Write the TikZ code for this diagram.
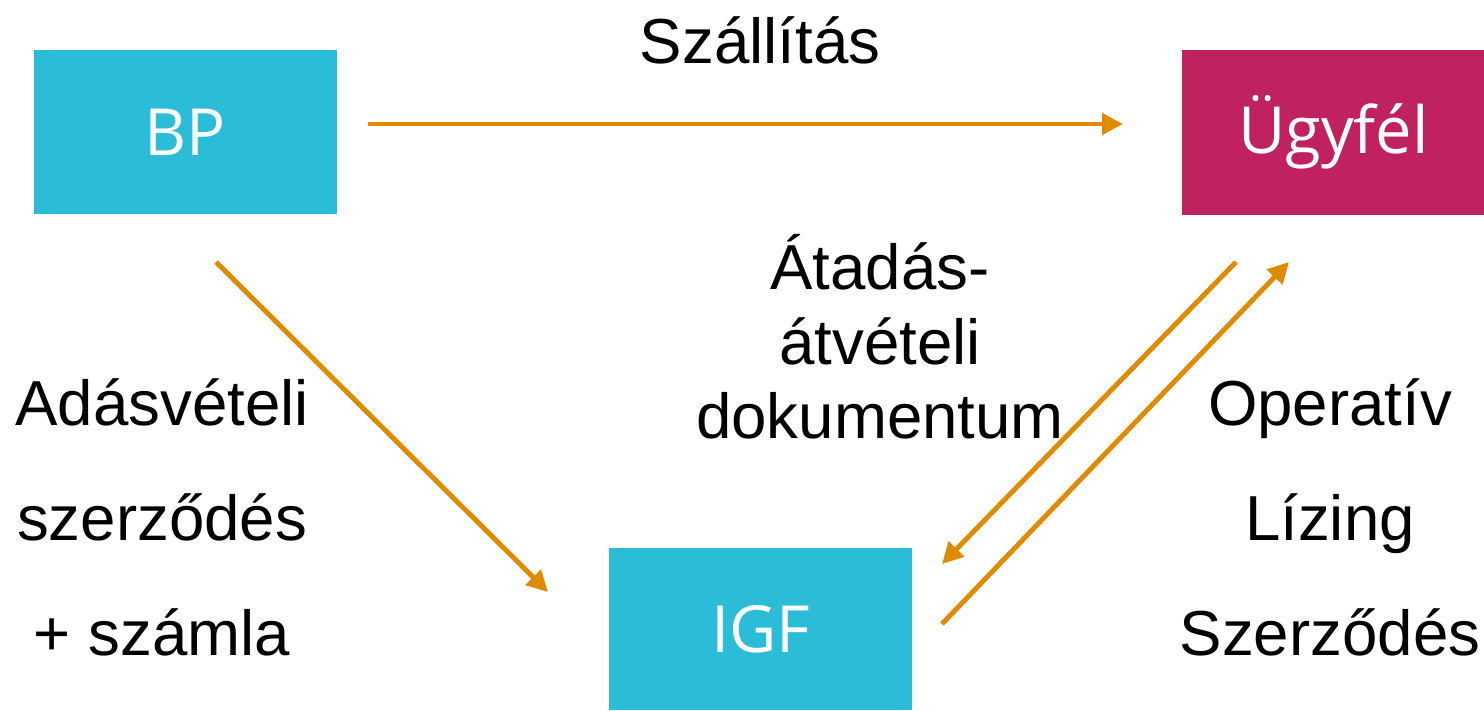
\documentclass[tikz,border=0pt]{standalone}
\usepackage{fontspec}
\setmainfont{Liberation Sans}
\newfontfamily\boxfont{Open Sans}
\usetikzlibrary{arrows.meta}
\definecolor{igfblue}{HTML}{2BBCD8}
\definecolor{clientred}{HTML}{C0215F}
\definecolor{flowline}{HTML}{E08A00}

\begin{document}
\begin{tikzpicture}[x=0.02cm,y=-0.02cm]
	\tikzstyle{party}=[minimum width=6.06cm,minimum height=3.3cm,inner sep=0pt,text=white,font=\boxfont\fontsize{37}{44}\selectfont]
	\tikzstyle{flow}=[draw=flowline,line width=2.8pt,-{Triangle[length=0.42cm,width=0.42cm]}]
	\tikzstyle{note}=[align=center,inner sep=0pt,font=\fontsize{36.2}{65.5}\selectfont]
	\useasboundingbox (0,0) rectangle (1484,710);
	% boxes
	\node[party,fill=igfblue] (bp) at (185.5,132) {BP};
	\node[party,fill=clientred] (ugyfel) at (1333.5,132.5) {Ügyfél};
	\node[party,fill=igfblue,minimum height=3.24cm] (igf) at (760.5,629) {IGF};
	% arrow ends
	\coordinate (szall-a) at (368,124);
	\coordinate (szall-b) at (1123,124);
	\coordinate (bp-a) at (216,262);
	\coordinate (bp-b) at (548,592);
	\coordinate (doc-a) at (1236,262);
	\coordinate (doc-b) at (942,564);
	\coordinate (lease-a) at (942,624);
	\coordinate (lease-b) at (1289,262);
	\draw[flow] (szall-a) -- (szall-b);
	\draw[flow] (bp-a) -- (bp-b);
	\draw[flow] (doc-a) -- (doc-b);
	\draw[flow] (lease-a) -- (lease-b);
	% labels
	\node[note] (szall) at (760,40) {Szállítás};
	\node[note] (sale) at (162,517) {Adásvételi\\szerződés\\+ számla};
	\node[note,font=\fontsize{36.2}{42.5}\selectfont] (doc) at (880,337) {Átadás-\\átvételi\\dokumentum};
	\node[note] (lease) at (1330,517) {Operatív\\Lízing\\Szerződés};
\end{tikzpicture}
\end{document}
